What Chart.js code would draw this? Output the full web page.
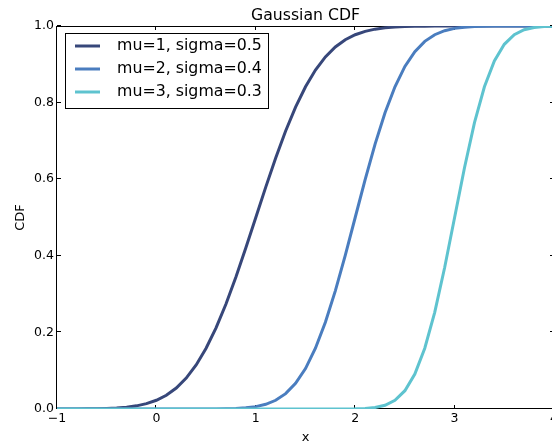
<!DOCTYPE html>
<html><head><meta charset="utf-8">
<script src="https://cdn.jsdelivr.net/npm/chart.js@4.4.0/dist/chart.umd.min.js"></script>
<style>
html,body{margin:0;padding:0;overflow:hidden;background:#fff;width:552px;height:445px}
#wrap{width:567px;height:445px}
</style>
</head><body><div id="wrap"><canvas id="c" width="567" height="445"></canvas></div>
<script>
const chartTitle = 'Gaussian CDF';
const xAxisLabel = 'x';
const yAxisLabel = 'CDF';
const seriesLabels = ['mu=1, sigma=0.5', 'mu=2, sigma=0.4', 'mu=3, sigma=0.3'];
const seriesColors = ['#37477a', '#4a7dbf', '#5ec3cf'];
const xTicks = [-1, 0, 1, 2, 3, 4];
const yTicks = [0, 0.2, 0.4, 0.6, 0.8, 1.0];

const xValues = [-1.0,-0.9,-0.8,-0.7,-0.6,-0.5,-0.4,-0.3,-0.2,-0.1,
  0.0,0.1,0.2,0.3,0.4,0.5,0.6,0.7,0.8,0.9,
  1.0,1.1,1.2,1.3,1.4,1.5,1.6,1.7,1.8,1.9,
  2.0,2.1,2.2,2.3,2.4,2.5,2.6,2.7,2.8,2.9,
  3.0,3.1,3.2,3.3,3.4,3.5,3.6,3.7,3.8,3.9,4.0];

const cdfMu1 = [0.00003,0.00007,0.00016,0.00034,0.00069,0.00135,0.00256,0.00466,0.0082,0.0139,
  0.02275,0.03593,0.0548,0.08076,0.11507,0.15866,0.21186,0.27425,0.34458,0.42074,
  0.5,0.57926,0.65542,0.72575,0.78814,0.84134,0.88493,0.91924,0.9452,0.96407,
  0.97725,0.9861,0.9918,0.99534,0.99744,0.99865,0.99931,0.99966,0.99984,0.99993,
  0.99997,0.99999,1,1,1,1,1,1,1,1,1];

const cdfMu2 = [0,0,0,0,0,0,0,0,0,0,
  0,0,0,0,0.00003,0.00009,0.00023,0.00058,0.00135,0.00298,
  0.00621,0.01222,0.02275,0.04006,0.06681,0.10565,0.15866,0.22663,0.30854,0.40129,
  0.5,0.59871,0.69146,0.77337,0.84134,0.89435,0.93319,0.95994,0.97725,0.98778,
  0.99379,0.99702,0.99865,0.99942,0.99977,0.99991,0.99997,0.99999,1,1,1];

const cdfMu3 = [0,0,0,0,0,0,0,0,0,0,
  0,0,0,0,0,0,0,0,0,0,
  0,0,0,0,0,0,0,0,0.00003,0.00012,
  0.00043,0.00135,0.00383,0.00982,0.02275,0.04779,0.09121,0.15866,0.25249,0.36944,
  0.5,0.63056,0.74751,0.84134,0.90879,0.95221,0.97725,0.99018,0.99617,0.99865,0.99957];

const seriesValues = [cdfMu1, cdfMu2, cdfMu3];

Chart.defaults.font.family = "'DejaVu Sans', sans-serif";
Chart.defaults.color = '#000';

const framePlugin = {
  id: 'frame',
  beforeDatasetsDraw(chart) {
    const {ctx, chartArea: a, scales: {x, y}} = chart;
    ctx.save();
    ctx.strokeStyle = '#000';
    ctx.lineWidth = 1;
    ctx.strokeRect(Math.round(a.left) - 0.5, Math.round(a.top) + 0.5, Math.round(a.right - a.left), Math.round(a.bottom - a.top) - 1);
    ctx.beginPath();
    const tl = 4;
    xTicks.forEach(v => {
      const px = Math.round(x.getPixelForValue(v)) - 0.5;
      ctx.moveTo(px, a.bottom); ctx.lineTo(px, a.bottom - tl);
      ctx.moveTo(px, a.top); ctx.lineTo(px, a.top + tl);
    });
    yTicks.forEach(v => {
      const py = Math.round(y.getPixelForValue(v)) - 0.5;
      ctx.moveTo(a.left, py); ctx.lineTo(a.left + tl, py);
      ctx.moveTo(a.right, py); ctx.lineTo(a.right - tl, py);
    });
    ctx.stroke();
    ctx.restore();
  }
};

const legendPlugin = {
  id: 'boxLegend',
  afterDraw(chart) {
    const {ctx, chartArea: a} = chart;
    const bx = Math.round(a.left) + 8, by = Math.round(a.top) + 7, bw = 203, bh = 75;
    ctx.save();
    ctx.fillStyle = '#fff';
    ctx.fillRect(bx, by, bw, bh);
    ctx.strokeStyle = '#000';
    ctx.lineWidth = 1;
    ctx.strokeRect(bx + 0.5, by + 0.5, bw, bh);
    ctx.font = "15.8px 'DejaVu Sans', sans-serif";
    ctx.textBaseline = 'middle';
    ctx.textAlign = 'left';
    chart.data.datasets.forEach((ds, i) => {
      const yy = by + 13 + 23 * i;
      ctx.strokeStyle = ds.borderColor;
      ctx.lineWidth = 3;
      ctx.beginPath();
      ctx.moveTo(bx + 10, yy); ctx.lineTo(bx + 35, yy);
      ctx.stroke();
      ctx.fillStyle = '#000';
      ctx.fillText(ds.label, bx + 52, yy);
    });
    ctx.restore();
  }
};

const datasets = seriesLabels.map((label, s) => ({
  label,
  data: xValues.map((xv, i) => ({x: xv, y: seriesValues[s][i]})),
  borderColor: seriesColors[s],
  backgroundColor: seriesColors[s],
  borderWidth: 3,
  pointRadius: 0,
  tension: 0,
  fill: false,
  order: seriesLabels.length - s
}));

new Chart(document.getElementById('c'), {
  type: 'line',
  data: {datasets},
  options: {
    responsive: false,
    animation: false,
    devicePixelRatio: 1,
    layout: {padding: {left: 0, right: 13, top: 0, bottom: 0}},
    plugins: {
      legend: {display: false},
      tooltip: {enabled: false},
      title: {
        display: true, text: chartTitle, fullSize: false, color: '#000',
        font: {size: 15.7, weight: 'normal', lineHeight: '19px'},
        padding: {top: 6, bottom: 1}
      }
    },
    scales: {
      x: {
        type: 'linear', min: -1, max: 4,
        afterBuildTicks: s => { s.ticks = xTicks.map(v => ({value: v})); },
        afterFit: s => { s.height = 36; },
        grid: {display: false, drawTicks: false},
        border: {display: false},
        ticks: {
          autoSkip: false, maxRotation: 0, padding: 2, color: '#000',
          font: {size: 12.5},
          callback: v => v < 0 ? '\u2212' + Math.abs(v) : String(v)
        },
        title: {display: true, text: xAxisLabel, color: '#000', font: {size: 13, lineHeight: 1.2}, padding: {top: 0, bottom: 0}}
      },
      y: {
        type: 'linear', min: 0, max: 1,
        afterBuildTicks: s => { s.ticks = yTicks.map(v => ({value: v})); },
        afterFit: s => { s.width = 57; },
        grid: {display: false, drawTicks: false},
        border: {display: false},
        ticks: {
          autoSkip: false, padding: 3, color: '#000',
          font: {size: 12.5},
          callback: v => Number(v).toFixed(1)
        },
        title: {display: true, text: yAxisLabel, color: '#000', font: {size: 13, lineHeight: 1.2}, padding: {top: 13, bottom: 0}}
      }
    }
  },
  plugins: [framePlugin, legendPlugin]
});
</script>
</body></html>
